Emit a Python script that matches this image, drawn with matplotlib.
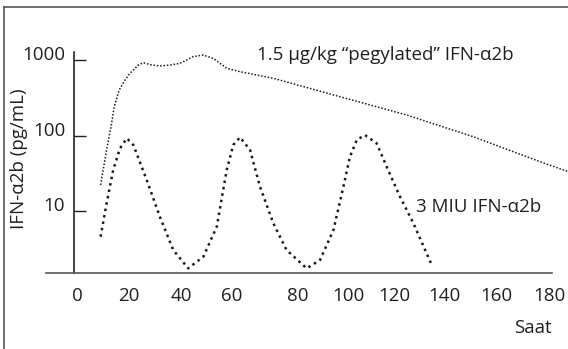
import matplotlib
matplotlib.use("Agg")
import matplotlib.pyplot as plt
from matplotlib.lines import Line2D

plt.rcParams['font.family'] = ['Open Sans', 'DejaVu Sans']

# --- data (hours, pg/mL) ---
peg_x = [9.0, 11.3, 13.2, 14.2, 16.1, 18.3, 20.2, 23.4, 25.3, 28.5, 31.7, 35.5,
         39.3, 41.8, 44.2, 48.2, 52.0, 54.5, 57.1, 62.2, 74.9, 100.3, 125.7,
         151.1, 176.6, 187.4]
peg_y = [22.3, 64.7, 146, 242, 402, 545, 669, 861, 924, 860, 836, 860,
         907, 1002, 1109, 1167, 1054, 908, 780, 703, 574, 328, 188,
         97, 45.3, 33.4]

miu_x = [9.0, 11.3, 13.8, 16.4, 19.0, 21.5, 26.6, 31.6, 36.7, 42.4, 48.2, 53.3,
         57.1, 59.6, 62.2, 66.0, 69.8, 74.9, 79.9, 87.6, 92.7, 97.8, 101.6, 104.1,
         106.7, 109.8, 114.3, 118.1, 123.2, 128.3, 135.3]
miu_y = [4.61, 12.8, 35.2, 68.1, 92.4, 75.4, 25.9, 8.49, 3.08, 1.76, 2.51, 6.25,
         35.2, 75.4, 95.3, 64.7, 21.1, 6.93, 3.08, 1.76, 2.27, 5.66, 21.1, 52.7,
         87.7, 102, 79.2, 38.9, 15.6, 6.93, 1.95]

x_tick_labels = ["0", "20", "40", "60", "80", "100", "120", "140", "160", "180"]
x_tick_pos = [0, 19.8, 39.7, 59.1, 84.3, 103.7, 121.0, 140.0, 159.8, 180.0]
y_ticks = [10, 100, 1000]
y_tick_labels = ["10", "100", "1000"]

peg_label = "1.5 µg/kg \u201cpegylated\u201d IFN-\u03b12b"
miu_label = "3 MIU IFN-\u03b12b"

W, H = 568, 349
fig = plt.figure(figsize=(W / 100, H / 100), dpi=100)
ax = fig.add_axes([46 / W, 1 - 273 / H, 522 / W, 243 / H])

txt = '#231f20'
fs = 13.5
ax.set_yscale('log')
ax.set_xlim(-11.82, 187.26)
ax.set_ylim(1.527, 2501)

ax.plot(peg_x, peg_y, color='#1a1a1a', lw=1.1, linestyle=(0, (1, 1.2)),
        clip_on=False, dash_capstyle='butt')
ax.plot(miu_x, miu_y, color='#1a1a1a', lw=1.8, linestyle=(0, (1, 1.6)),
        clip_on=False, dash_capstyle='butt')

for s in ['top', 'right']:
    ax.spines[s].set_visible(False)
ax.spines['left'].set_position(('data', -1.1))
ax.spines['left'].set_bounds(1.527, 1270)
ax.spines['left'].set_color('#111111')
ax.spines['left'].set_linewidth(1.1)
ax.spines['bottom'].set_bounds(-11.82, 181.2)
ax.spines['bottom'].set_color('#555555')
ax.spines['bottom'].set_linewidth(1.2)

ax.set_yticks(y_ticks)
ax.set_yticklabels(y_tick_labels)
ax.yaxis.set_minor_locator(matplotlib.ticker.NullLocator())
ax.tick_params(axis='y', direction='in', length=8.5, width=1.0, pad=6.5,
               labelsize=fs, colors=txt)
for lab in ax.get_yticklabels():
    lab.set_verticalalignment('baseline')

ax.set_xticks(x_tick_pos)
ax.set_xticklabels(x_tick_labels)
ax.tick_params(axis='x', length=0, pad=10, labelsize=fs, colors=txt)

ax.set_ylabel("IFN-\u03b12b (pg/mL)", fontsize=fs, color=txt, va='center')
ax.yaxis.set_label_coords((19 - 46) / 522, (273 - 158.5) / 243)
ax.set_xlabel("Saat", fontsize=fs, color=txt, ha='right', va='center')
ax.xaxis.set_label_coords((552 - 46) / 522, -(328 - 273) / 243)

ax.text(68.6, 1167, peg_label, fontsize=fs, color=txt, ha='left', va='center')
ax.text(129.3, 11.4, miu_label, fontsize=fs, color=txt, ha='left', va='center')

# figure frame (left and top edges)
fig.add_artist(Line2D([4 / W, 4 / W], [0, 1 - 7 / H], transform=fig.transFigure,
                      color='#555555', lw=1.2))
fig.add_artist(Line2D([4 / W, 1], [1 - 7 / H, 1 - 7 / H], transform=fig.transFigure,
                      color='#555555', lw=1.2))

fig.savefig("out.png", dpi=100)
